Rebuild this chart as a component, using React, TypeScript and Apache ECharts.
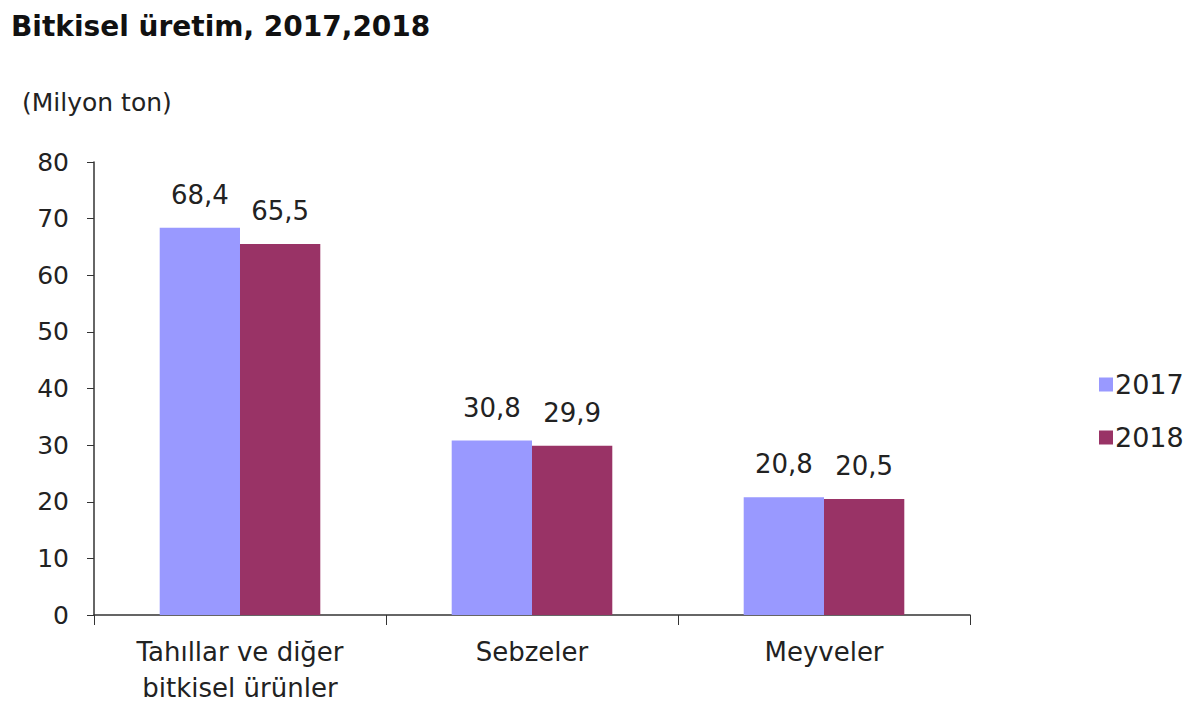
import React, { useEffect, useRef } from "react";
import * as echarts from "echarts";

const categories = ["Tahıllar ve diğer\nbitkisel ürünler", "Sebzeler", "Meyveler"];
const seriesNames = ["2017", "2018"];
const values2017 = [68.4, 30.8, 20.8];
const values2018 = [65.5, 29.9, 20.5];
const colors = ["#9999FF", "#993366"];
const FONT = "'DejaVu Sans', Arial, sans-serif";

export default function App() {
  const ref = useRef<HTMLDivElement>(null);
  useEffect(() => {
    if (!ref.current) return;
    const chart = echarts.init(ref.current, null, { renderer: "svg" });
    const fmt = (p: any) => String(p.value.toFixed(1)).replace(".", ",");
    const mk = (name: string, data: number[], color: string) => ({
      name,
      type: "bar",
      data,
      barGap: "0%",
      barCategoryGap: "45%",
      itemStyle: { color },
      label: {
        show: true,
        position: "top",
        distance: 20,
        formatter: fmt,
        fontFamily: FONT,
        fontSize: 26,
        color: "#222",
      },
    });
    chart.setOption({
      animation: false,
      backgroundColor: "#fff",
      title: {
        text: "Bitkisel üretim, 2017,2018",
        left: 6,
        top: 7,
        textStyle: { fontFamily: FONT, fontSize: 28, fontWeight: "bold", color: "#111" },
      },
      graphic: [
        {
          type: "text",
          left: 22,
          top: 90,
          style: { text: "(Milyon ton)", font: `25px ${FONT}`, fill: "#222" },
        },
      ],
      legend: {
        orient: "vertical",
        left: 1094,
        top: 366,
        itemWidth: 14,
        itemHeight: 14,
        itemGap: 26,
        icon: "rect",
        data: seriesNames,
        textStyle: { fontFamily: FONT, fontSize: 27, color: "#222", padding: [0, 0, 0, -3] },
      },
      grid: { left: 94, right: 230, top: 162, bottom: 95, containLabel: false },
      xAxis: {
        type: "category",
        data: categories,
        axisLine: { lineStyle: { color: "#333", width: 1.5 } },
        axisTick: { show: true, length: 10, lineStyle: { color: "#333" } },
        axisLabel: {
          fontFamily: FONT,
          fontSize: 26,
          color: "#222",
          margin: 19,
          lineHeight: 36,
        },
      },
      yAxis: {
        type: "value",
        min: 0,
        max: 80,
        interval: 10,
        splitLine: { show: false },
        axisLine: { show: true, lineStyle: { color: "#333", width: 1.5 } },
        axisTick: { show: true, length: 7, lineStyle: { color: "#333" } },
        axisLabel: { fontFamily: FONT, fontSize: 25, color: "#222", margin: 25 },
      },
      series: [
        mk(seriesNames[0], values2017, colors[0]),
        mk(seriesNames[1], values2018, colors[1]),
      ],
    });
    return () => chart.dispose();
  }, []);
  return <div ref={ref} style={{ width: 1200, height: 710, position: "absolute", left: 0, top: 0 }} />;
}
